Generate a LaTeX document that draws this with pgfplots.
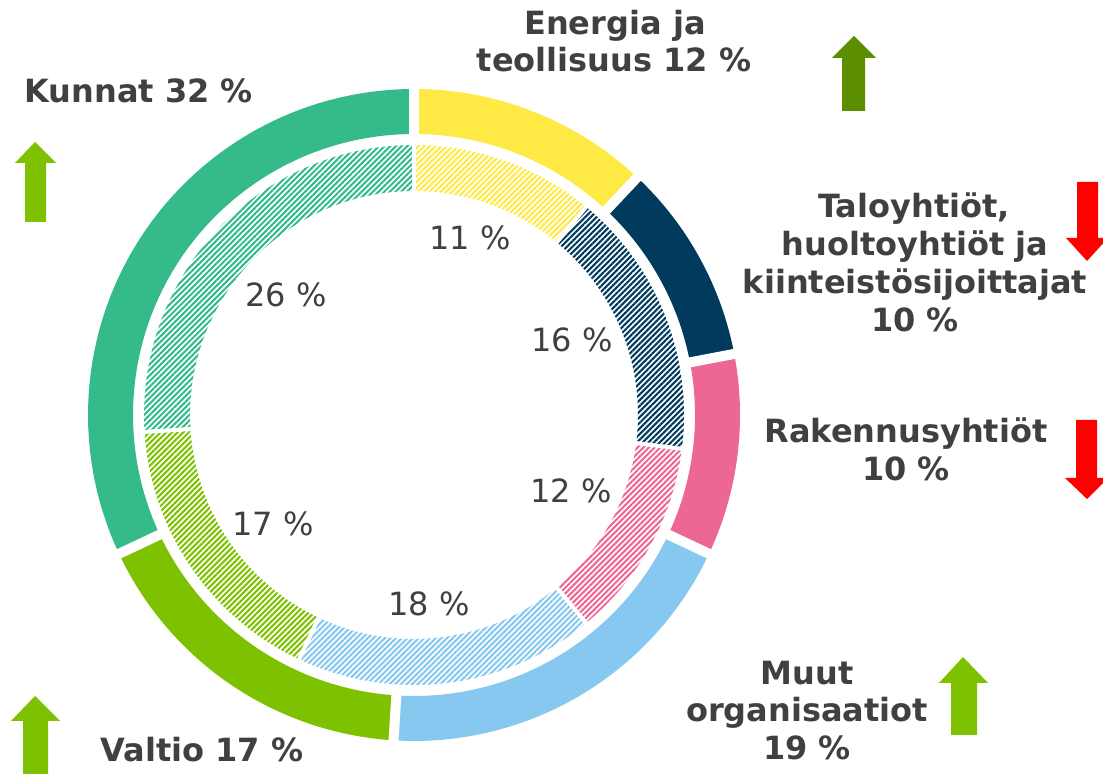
\documentclass[border=0pt]{standalone}
\usepackage{pgfplots}
\pgfplotsset{compat=1.18}
\usepackage{pgfplotstable}
\usepackage{fontspec}
\setmainfont{DejaVu Sans}
\usetikzlibrary{patterns.meta}

\definecolor{c0}{HTML}{FFE945}
\definecolor{c1}{HTML}{003A5D}
\definecolor{c2}{HTML}{EC6892}
\definecolor{c3}{HTML}{86C8EF}
\definecolor{c4}{HTML}{7DC100}
\definecolor{c5}{HTML}{35BA8A}
\definecolor{txt}{HTML}{404040}
\definecolor{dkgreen}{HTML}{5B8F00}
\definecolor{ltgreen}{HTML}{7DC100}
\definecolor{upred}{HTML}{FF0000}

\tikzset{hatch/.style={pattern={Lines[angle=45,distance=2pt,line width=1.05pt]},pattern color=#1}}

% shares in percent: outer ring and inner (hatched) ring
\pgfplotstableread{
name outer inner
Energia 12 11
Talo 10 16
Rakennus 10 12
Muut 19 18
Valtio 17 17
Kunnat 32 26
}\shares

\newcommand\seg[5]{% #1 start %, #2 value %, #3 r in, #4 r out, #5 style
  \pgfmathsetmacro\aA{90-3.6*(#1)}%
  \pgfmathsetmacro\aB{90-3.6*((#1)+(#2))}%
  \edef\tmp{\noexpand\addplot[#5, draw=none, samples at={0,1,...,121}, variable=\noexpand\t]
   ({ifthenelse(\noexpand\t<60.5,#4,#3)*cos(ifthenelse(\noexpand\t<60.5,(\aA)+((\aB)-(\aA))*\noexpand\t/60,(\aB)+((\aA)-(\aB))*(\noexpand\t-61)/60))},
    {ifthenelse(\noexpand\t<60.5,#4,#3)*sin(ifthenelse(\noexpand\t<60.5,(\aA)+((\aB)-(\aA))*\noexpand\t/60,(\aB)+((\aA)-(\aB))*(\noexpand\t-61)/60))});}%
  \tmp}

\newcommand\gap[4]{% #1 cum %, #2 rin, #3 rout, #4 width
  \pgfmathsetmacro\aG{90-3.6*(#1)}%
  \edef\tmp{\noexpand\addplot[white, line width=#4, samples at={0,1}, variable=\noexpand\t]
   ({(#2+(#3-#2)*\noexpand\t)*cos(\aG)},{(#2+(#3-#2)*\noexpand\t)*sin(\aG)});}%
  \tmp}

\newcommand\lbl{\fontsize{16}{18}\selectfont\bfseries}
\newcommand\inl{\fontsize{16}{18}\selectfont}

\begin{document}
\begin{tikzpicture}
\begin{axis}[
  width=551.5pt, height=387pt, scale only axis,
  xmin=-414, xmax=689, ymin=-359, ymax=415,
  hide axis,
]
\addplot[draw=none] coordinates {(-414,-359) (689,415)};

\def\cumO{0}\def\cumI{0}
\pgfplotsforeachungrouped \i in {0,...,5}{%
  \pgfplotstablegetelem{\i}{outer}\of\shares \let\vO\pgfplotsretval
  \pgfplotstablegetelem{\i}{inner}\of\shares \let\vI\pgfplotsretval
  \seg{\cumO}{\vO}{281}{326}{fill=c\i}
  \seg{\cumI}{\vI}{224}{270}{hatch=c\i}
  \pgfmathsetmacro\cumO{\cumO+\vO}
  \pgfmathsetmacro\cumI{\cumI+\vI}
}
\def\cumO{0}\def\cumI{0}
\pgfplotsforeachungrouped \i in {0,...,5}{%
  \pgfplotstablegetelem{\i}{outer}\of\shares \let\vO\pgfplotsretval
  \pgfplotstablegetelem{\i}{inner}\of\shares \let\vI\pgfplotsretval
  \gap{\cumO}{276}{331}{5pt}
  \gap{\cumI}{219}{275}{2pt}
  \pgfmathsetmacro\cumO{\cumO+\vO}
  \pgfmathsetmacro\cumI{\cumI+\vI}
}

% trend arrows
\addplot[fill=dkgreen, draw=none] coordinates {(428,304) (428,357) (418,357) (440,379) (462,357) (451,357) (451,304)};
\addplot[fill=ltgreen, draw=none] coordinates {(-389,193) (-389,252) (-399,252) (-379,273) (-358,252) (-368,252) (-368,193)};
\addplot[fill=ltgreen, draw=none] coordinates {(-391,-360) (-391,-306) (-403,-306) (-379,-281) (-354,-306) (-366,-306) (-366,-360)};
\addplot[fill=ltgreen, draw=none] coordinates {(537,-320) (537,-268) (525,-268) (549,-242) (574,-268) (563,-268) (563,-320)};
\addplot[fill=upred, draw=none] coordinates {(663,233) (663,177) (652,177) (673,154) (694,177) (684,177) (684,233)};
\addplot[fill=upred, draw=none] coordinates {(662,-5) (662,-63) (651,-63) (673,-84) (694,-63) (683,-63) (683,-5)};

% category labels
\begin{scope}[every node/.style={text=txt, font=\lbl, inner sep=0pt}]
\node[anchor=base] at (axis cs:201,380) {Energia ja};
\node[anchor=base] at (axis cs:200,343) {teollisuus 12 \%};
\node[anchor=base west] at (axis cs:-390,312) {Kunnat 32 \%};
\node[anchor=base] at (axis cs:500,197) {Taloyhtiöt,};
\node[anchor=base] at (axis cs:501,159) {huoltoyhtiöt ja};
\node[anchor=base] at (axis cs:501,121) {kiinteistösijoittajat};
\node[anchor=base] at (axis cs:501,83) {10 \%};
\node[anchor=base] at (axis cs:492,-28) {Rakennusyhtiöt};
\node[anchor=base] at (axis cs:492,-66) {10 \%};
\node[anchor=base] at (axis cs:393,-270) {Muut};
\node[anchor=base] at (axis cs:393,-307) {organisaatiot};
\node[anchor=base] at (axis cs:393,-345) {19 \%};
\node[anchor=base west] at (axis cs:-314,-347) {Valtio 17 \%};
\end{scope}
% inner ring labels
\begin{scope}[every node/.style={text=txt, font=\inl, inner sep=0pt, anchor=base}]
\node at (axis cs:56,165) {11 \%};
\node at (axis cs:158,63) {16 \%};
\node at (axis cs:157,-88) {12 \%};
\node at (axis cs:15,-201) {18 \%};
\node at (axis cs:-141,-121) {17 \%};
\node at (axis cs:-128,108) {26 \%};
\end{scope}
\end{axis}
\end{tikzpicture}
\end{document}
